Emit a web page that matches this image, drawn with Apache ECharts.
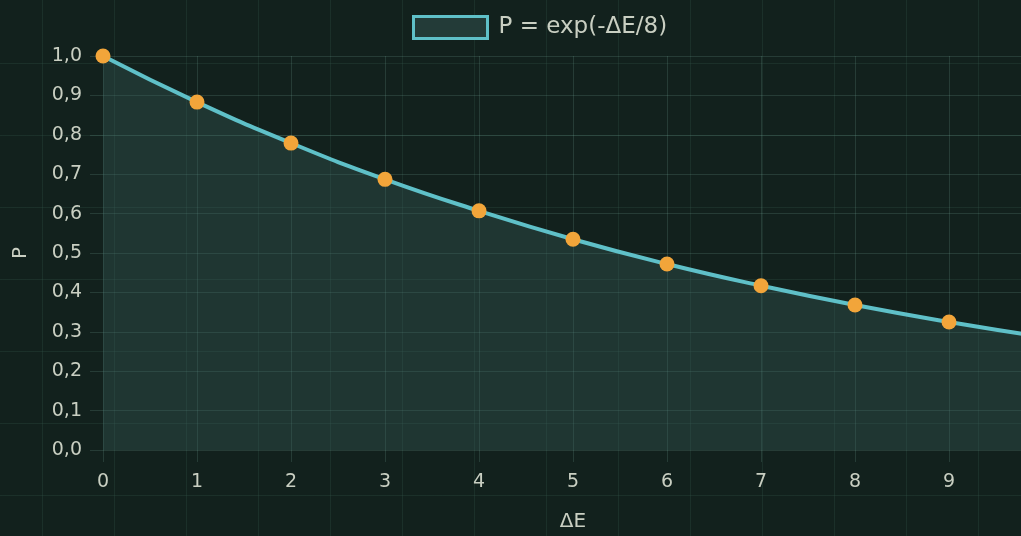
<!DOCTYPE html>
<html>
<head>
<meta charset="utf-8">
<script src="https://cdn.jsdelivr.net/npm/echarts@6/dist/echarts.min.js"></script>
<style>
html,body{margin:0;padding:0;}
body{
  width:1021px;height:536px;overflow:hidden;
  background-color:#12211d;
  background-image:
    linear-gradient(to right, rgba(60,100,85,0.22) 1px, transparent 1px),
    linear-gradient(to bottom, rgba(60,100,85,0.22) 1px, transparent 1px);
  background-size:72px 72px;
  background-position:42px -9px;
}
#chart{width:1043px;height:536px;}
</style>
</head>
<body>
<div id="chart"></div>
<script>
// Data
const seriesName = 'P = exp(-ΔE/8)';
const xPoints = [0, 1, 2, 3, 4, 5, 6, 7, 8, 9];
const pPoints = [1.0, 0.883, 0.779, 0.687, 0.607, 0.535, 0.472, 0.417, 0.368, 0.325];
const curveX = [0, 1, 2, 3, 4, 5, 6, 7, 8, 9, 10];
const curveP = [1.0, 0.883, 0.779, 0.687, 0.607, 0.535, 0.472, 0.417, 0.368, 0.325, 0.287];
const xTicks = [0, 1, 2, 3, 4, 5, 6, 7, 8, 9];
const yTicks = [0, 0.1, 0.2, 0.3, 0.4, 0.5, 0.6, 0.7, 0.8, 0.9, 1.0];

const lineColor = '#5fc0c8';
const dotColor = '#f2a53a';
const areaColor = 'rgba(60,100,98,0.45)';
const textColor = '#c9cfc2';
const gridColor = 'rgba(110,160,145,0.22)';
const font = '"DejaVu Sans", sans-serif';

const chart = echarts.init(document.getElementById('chart'), null, {renderer:'canvas'});
chart.setOption({
  backgroundColor: 'transparent',
  textStyle: {fontFamily: font},
  legend: {
    data: [seriesName],
    top: 10,
    left: 407,
    icon: 'rect',
    itemWidth: 74,
    itemHeight: 22,
    itemStyle: {color: '#233b38', borderColor: lineColor, borderWidth: 3},
    textStyle: {color: textColor, fontSize: 23, fontFamily: font, padding: [0, 0, 0, 6]}
  },
  grid: {left: 103, top: 56, right: 0, bottom: 86, containLabel: false, outerBoundsMode: 'none'},
  xAxis: {
    type: 'value',
    min: 0, max: 10, interval: 1,
    name: 'ΔE',
    nameLocation: 'middle',
    nameGap: 62,
    nameTextStyle: {color: textColor, fontSize: 20, fontFamily: font},
    axisLine: {show: false},
    axisTick: {show: true, length: 12, lineStyle: {color: gridColor}},
    axisLabel: {
      color: textColor, fontSize: 19, margin: 23, fontFamily: font,
      formatter: v => xTicks.includes(v) ? String(v) : ''
    },
    splitLine: {show: true, lineStyle: {color: gridColor, width: 1}}
  },
  yAxis: {
    type: 'value',
    min: 0, max: 1, interval: 0.1,
    name: 'P',
    nameLocation: 'middle',
    nameGap: 72,
    nameTextStyle: {color: textColor, fontSize: 20, fontFamily: font},
    axisLine: {show: false},
    axisTick: {show: true, length: 13, lineStyle: {color: gridColor}},
    axisLabel: {
      color: textColor, fontSize: 19, margin: 21, fontFamily: font,
      formatter: v => {
        const t = yTicks.find(y => Math.abs(y - v) < 1e-6);
        return t === undefined ? '' : t.toFixed(1).replace('.', ',');
      }
    },
    splitLine: {show: true, lineStyle: {color: gridColor, width: 1}}
  },
  series: [
    {
      name: seriesName,
      type: 'line',
      data: curveX.map((x, i) => [x, curveP[i]]),
      smooth: true,
      showSymbol: false,
      lineStyle: {color: lineColor, width: 4},
      itemStyle: {color: lineColor},
      areaStyle: {color: areaColor, origin: 'start'},
      z: 2
    },
    {
      name: 'points',
      type: 'scatter',
      data: xPoints.map((x, i) => [x, pPoints[i]]),
      symbol: 'circle',
      symbolSize: 15,
      itemStyle: {color: dotColor, opacity: 1},
      z: 3
    }
  ]
});
</script>
</body>
</html>
